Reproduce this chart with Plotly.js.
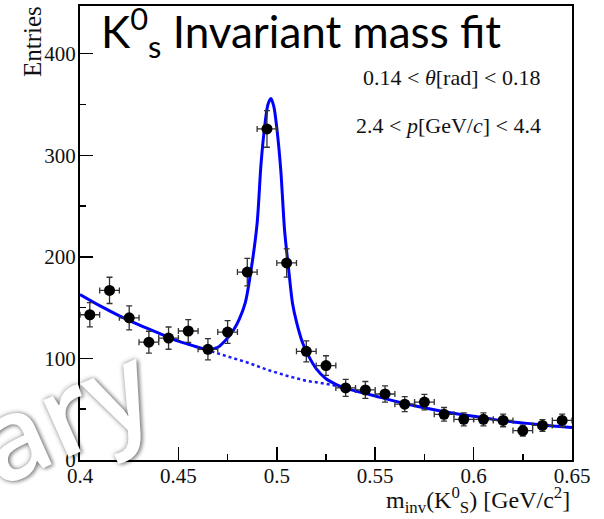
<!DOCTYPE html>
<html>
<head>
<meta charset="utf-8">
<script src="https://cdn.plot.ly/plotly-3.0.1.min.js"></script>
<style>
  html, body { margin: 0; padding: 0; background: #fff; }
  #chart { width: 604px; height: 519px; }
</style>
</head>
<body>
<div id="chart"></div>
<script>
// ---- data ----
const binCenters = [0.405, 0.415, 0.425, 0.435, 0.445, 0.455, 0.465, 0.475, 0.485, 0.495,
                    0.505, 0.515, 0.525, 0.535, 0.545, 0.555, 0.565, 0.575, 0.585, 0.595,
                    0.605, 0.615, 0.625, 0.635, 0.645];
const entries = [143, 167, 140, 116, 120, 127, 109, 126, 185, 326,
                 194, 107, 93, 71, 69, 65, 55, 57, 45, 40,
                 40, 39, 29, 34, 39];
const binHalfWidth = 0.005;

// fitted total curve (signal + background)
const fitMass = [0.400, 0.410, 0.420, 0.430, 0.440, 0.450, 0.455, 0.460, 0.465, 0.470,
                 0.474, 0.478, 0.481, 0.484, 0.487, 0.490, 0.492, 0.494, 0.4955, 0.497,
                 0.4985, 0.500, 0.502, 0.504, 0.506, 0.508, 0.510, 0.513, 0.516, 0.520,
                 0.525, 0.530, 0.535, 0.540, 0.550, 0.560, 0.570, 0.580, 0.590, 0.600,
                 0.610, 0.620, 0.630, 0.640, 0.650];
const fitTotal = [163, 152, 142, 133, 125, 117, 114, 111, 109, 111,
                  118, 128, 139, 155, 188, 233, 292, 331, 350, 356,
                  348, 327, 286, 225, 188, 154, 136, 116, 103, 90,
                  80, 74.5, 70.5, 68, 63, 58, 53.5, 49.5, 46, 43,
                  40, 37.5, 35.5, 33.5, 32];

// background component (dotted) under the peak
const bgMass = [0.458, 0.465, 0.470, 0.475, 0.480, 0.485, 0.490, 0.495, 0.500, 0.505,
                0.510, 0.515, 0.520, 0.525, 0.530, 0.535];
const bgValues = [112, 108, 105, 102, 99, 96, 92.5, 89, 86, 83,
                  80.5, 78, 76.5, 75, 73, 70.5];

const xTickVals = [0.4, 0.45, 0.5, 0.55, 0.6, 0.65];
const xTickText = ['0.4', '0.45', '0.5', '0.55', '0.6', '0.65'];
const yTickVals = [0, 100, 200, 300, 400];
const yTickText = ['0', '100', '200', '300', '400'];

const serif = 'Liberation Serif, Times New Roman, serif';

const traces = [
  {
    x: bgMass, y: bgValues, type: 'scatter', mode: 'lines',
    line: { color: '#1a1aff', width: 2.5, dash: 'dot', shape: 'spline' },
    hoverinfo: 'skip', showlegend: false
  },
  {
    x: fitMass, y: fitTotal, type: 'scatter', mode: 'lines',
    line: { color: '#0000ff', width: 3, shape: 'spline', smoothing: 0.8 },
    hoverinfo: 'skip', showlegend: false
  },
  {
    x: binCenters, y: entries, type: 'scatter', mode: 'markers',
    marker: { color: '#000', size: 11 },
    error_y: { type: 'sqrt', color: '#333', thickness: 1.3, width: 3 },
    error_x: { type: 'constant', value: binHalfWidth, color: '#333', thickness: 1.3, width: 3 },
    showlegend: false
  }
];

const px2x = p => (p - 80) / 492;
const py2y = p => (460 - p) / 454;

const layout = {
  width: 604, height: 519,
  margin: { l: 80, r: 32, t: 6, b: 59 },
  paper_bgcolor: '#fff', plot_bgcolor: '#fff',
  showlegend: false,
  xaxis: {
    range: [0.4, 0.65], tickmode: 'array', tickvals: xTickVals, ticktext: xTickText,
    ticks: 'inside', ticklen: 13, tickwidth: 1.5, tickcolor: '#000',
    minor: { ticks: 'inside', ticklen: 6, tickwidth: 1.5, tickcolor: '#000', dtick: 0.025, tick0: 0.4 },
    showline: true, linewidth: 2, linecolor: '#000', mirror: true,
    showgrid: false, zeroline: false, ticklabelstandoff: -4,
    tickfont: { family: serif, size: 21, color: '#111' }
  },
  yaxis: {
    range: [0, 447], tickmode: 'array', tickvals: yTickVals, ticktext: yTickText,
    ticks: 'inside', ticklen: 13, tickwidth: 1.5, tickcolor: '#000',
    minor: { ticks: 'inside', ticklen: 6, tickwidth: 1.5, tickcolor: '#000', dtick: 50, tick0: 0 },
    showline: true, linewidth: 2, linecolor: '#000', mirror: true,
    showgrid: false, zeroline: false, ticklabelstandoff: -2,
    tickfont: { family: serif, size: 21, color: '#111' }
  },
  annotations: [
    {
      text: 'K<sup>0</sup><sub>s</sub> Invariant mass fit',
      xref: 'paper', yref: 'paper', x: px2x(99), y: py2y(32),
      xanchor: 'left', yanchor: 'middle', showarrow: false,
      font: { family: 'Lato, Carlito, sans-serif', size: 44, color: '#000' }
    },
    {
      text: '0.14 &lt; <i>θ</i>[rad] &lt; 0.18',
      xref: 'paper', yref: 'paper', x: px2x(451), y: py2y(77),
      xanchor: 'center', yanchor: 'middle', showarrow: false,
      font: { family: serif, size: 22, color: '#111' }
    },
    {
      text: '2.4 &lt; <i>p</i>[GeV/<i>c</i>] &lt; 4.4',
      xref: 'paper', yref: 'paper', x: px2x(448), y: py2y(126),
      xanchor: 'center', yanchor: 'middle', showarrow: false,
      font: { family: serif, size: 22, color: '#111' }
    },
    {
      text: 'Entries', textangle: -90,
      xref: 'paper', yref: 'paper', x: px2x(33), y: py2y(42),
      xanchor: 'center', yanchor: 'middle', showarrow: false,
      font: { family: serif, size: 25, color: '#111' }
    },
    {
      text: 'm<sub>inv</sub>(K<sup>0</sup><sub>S</sub>) [GeV/c<sup>2</sup>]',
      xref: 'paper', yref: 'paper', x: 1, y: py2y(500),
      xanchor: 'right', yanchor: 'middle', showarrow: false,
      font: { family: serif, size: 24, color: '#111' }
    },
    {
      text: 'Preliminary', textangle: -24,
      xref: 'paper', yref: 'paper', x: px2x(-150), y: py2y(506),
      xanchor: 'center', yanchor: 'middle', showarrow: false,
      font: { family: 'Open Sans, sans-serif', size: 115, weight: 600, color: '#ffffff',
              shadow: '0px 0px 5px rgba(0,0,0,0.45), 2px 2px 4px rgba(0,0,0,0.3)' }
    }
  ]
};

Plotly.newPlot('chart', traces, layout, { displayModeBar: false, staticPlot: true });
</script>
</body>
</html>
